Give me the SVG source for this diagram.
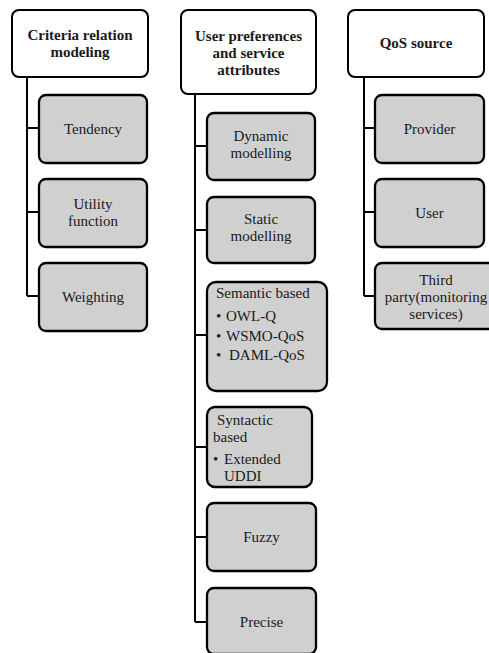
<svg xmlns="http://www.w3.org/2000/svg" width="489" height="653" viewBox="0 0 489 653">
  <style>
    .head { fill: #ffffff; stroke: #000000; stroke-width: 2; }
    .item { fill: #d0d0d0; stroke: #000000; stroke-width: 2.3; }
    .link { fill: none; stroke: #000000; stroke-width: 2; }
    text { font-family: "Liberation Serif", "Times New Roman", serif; font-size: 15px; fill: #1a1a1a; }
    .ht { font-weight: bold; text-anchor: middle; }
    .c { text-anchor: middle; }
  </style>
  <rect width="489" height="653" fill="#ffffff"/>

  <!-- connectors: trunk lines and branches -->
  <g id="connectors">
    <path class="link" d="M27 77 V296 M27 128 H39 M27 212 H39 M27 296 H39"/>
    <path class="link" d="M195 94 V622 M195 146 H207 M195 230 H207 M195 335 H207 M195 447 H207 M195 537 H207 M195 622 H207"/>
    <path class="link" d="M364 77 V296 M364 128 H375 M364 212 H375 M364 296 H375"/>
  </g>

  <!-- column 1 -->
  <g id="criteria">
    <rect class="head" x="12" y="10" width="136" height="67" rx="7"/>
    <text class="ht" x="80" y="40">Criteria relation</text>
    <text class="ht" x="80" y="57">modeling</text>
  </g>
  <g id="tendency">
    <rect class="item" x="39" y="95" width="108" height="68" rx="7"/>
    <text class="c" x="93" y="134">Tendency</text>
  </g>
  <g id="utility">
    <rect class="item" x="39" y="179" width="108" height="68" rx="7"/>
    <text class="c" x="93" y="209">Utility</text>
    <text class="c" x="93" y="226">function</text>
  </g>
  <g id="weighting">
    <rect class="item" x="39" y="263" width="108" height="68" rx="7"/>
    <text class="c" x="93" y="302">Weighting</text>
  </g>

  <!-- column 2 -->
  <g id="preferences">
    <rect class="head" x="181" y="10" width="135" height="84" rx="7"/>
    <text class="ht" x="248.5" y="41">User preferences</text>
    <text class="ht" x="248.5" y="58">and service</text>
    <text class="ht" x="248.5" y="75">attributes</text>
  </g>
  <g id="dynamic">
    <rect class="item" x="207" y="113" width="108" height="67" rx="7"/>
    <text class="c" x="261" y="141">Dynamic</text>
    <text class="c" x="261" y="158">modelling</text>
  </g>
  <g id="static">
    <rect class="item" x="207" y="197" width="108" height="66" rx="7"/>
    <text class="c" x="261" y="224">Static</text>
    <text class="c" x="261" y="241">modelling</text>
  </g>
  <g id="semantic">
    <rect class="item" x="207" y="282" width="120" height="109" rx="9"/>
    <text x="216" y="298">Semantic based</text>
    <text y="321"><tspan x="216">•</tspan><tspan x="226">OWL-Q</tspan></text>
    <text y="341"><tspan x="216">•</tspan><tspan x="226">WSMO-QoS</tspan></text>
    <text y="360"><tspan x="216">•</tspan><tspan x="229">DAML-QoS</tspan></text>
  </g>
  <g id="syntactic">
    <rect class="item" x="207" y="407" width="105" height="80" rx="8"/>
    <text x="217" y="425">Syntactic</text>
    <text x="213" y="442">based</text>
    <text y="464"><tspan x="213">•</tspan><tspan x="224">Extended</tspan></text>
    <text x="224" y="481">UDDI</text>
  </g>
  <g id="fuzzy">
    <rect class="item" x="207" y="503" width="109" height="68" rx="7"/>
    <text class="c" x="261.5" y="542">Fuzzy</text>
  </g>
  <g id="precise">
    <rect class="item" x="207" y="588" width="109" height="66" rx="7"/>
    <text class="c" x="261.5" y="627">Precise</text>
  </g>

  <!-- column 3 -->
  <g id="qos-source">
    <rect class="head" x="348" y="10" width="136" height="67" rx="7"/>
    <text class="ht" x="416" y="48">QoS source</text>
  </g>
  <g id="provider">
    <rect class="item" x="375" y="95" width="109" height="68" rx="7"/>
    <text class="c" x="429.5" y="134">Provider</text>
  </g>
  <g id="user">
    <rect class="item" x="375" y="179" width="109" height="68" rx="7"/>
    <text class="c" x="429.5" y="218">User</text>
  </g>
  <g id="third-party">
    <rect class="item" x="375" y="263" width="124" height="66" rx="7"/>
    <text class="c" x="436" y="285">Third</text>
    <text class="c" x="436" y="302">party(monitoring</text>
    <text class="c" x="436" y="319">services)</text>
  </g>
</svg>
